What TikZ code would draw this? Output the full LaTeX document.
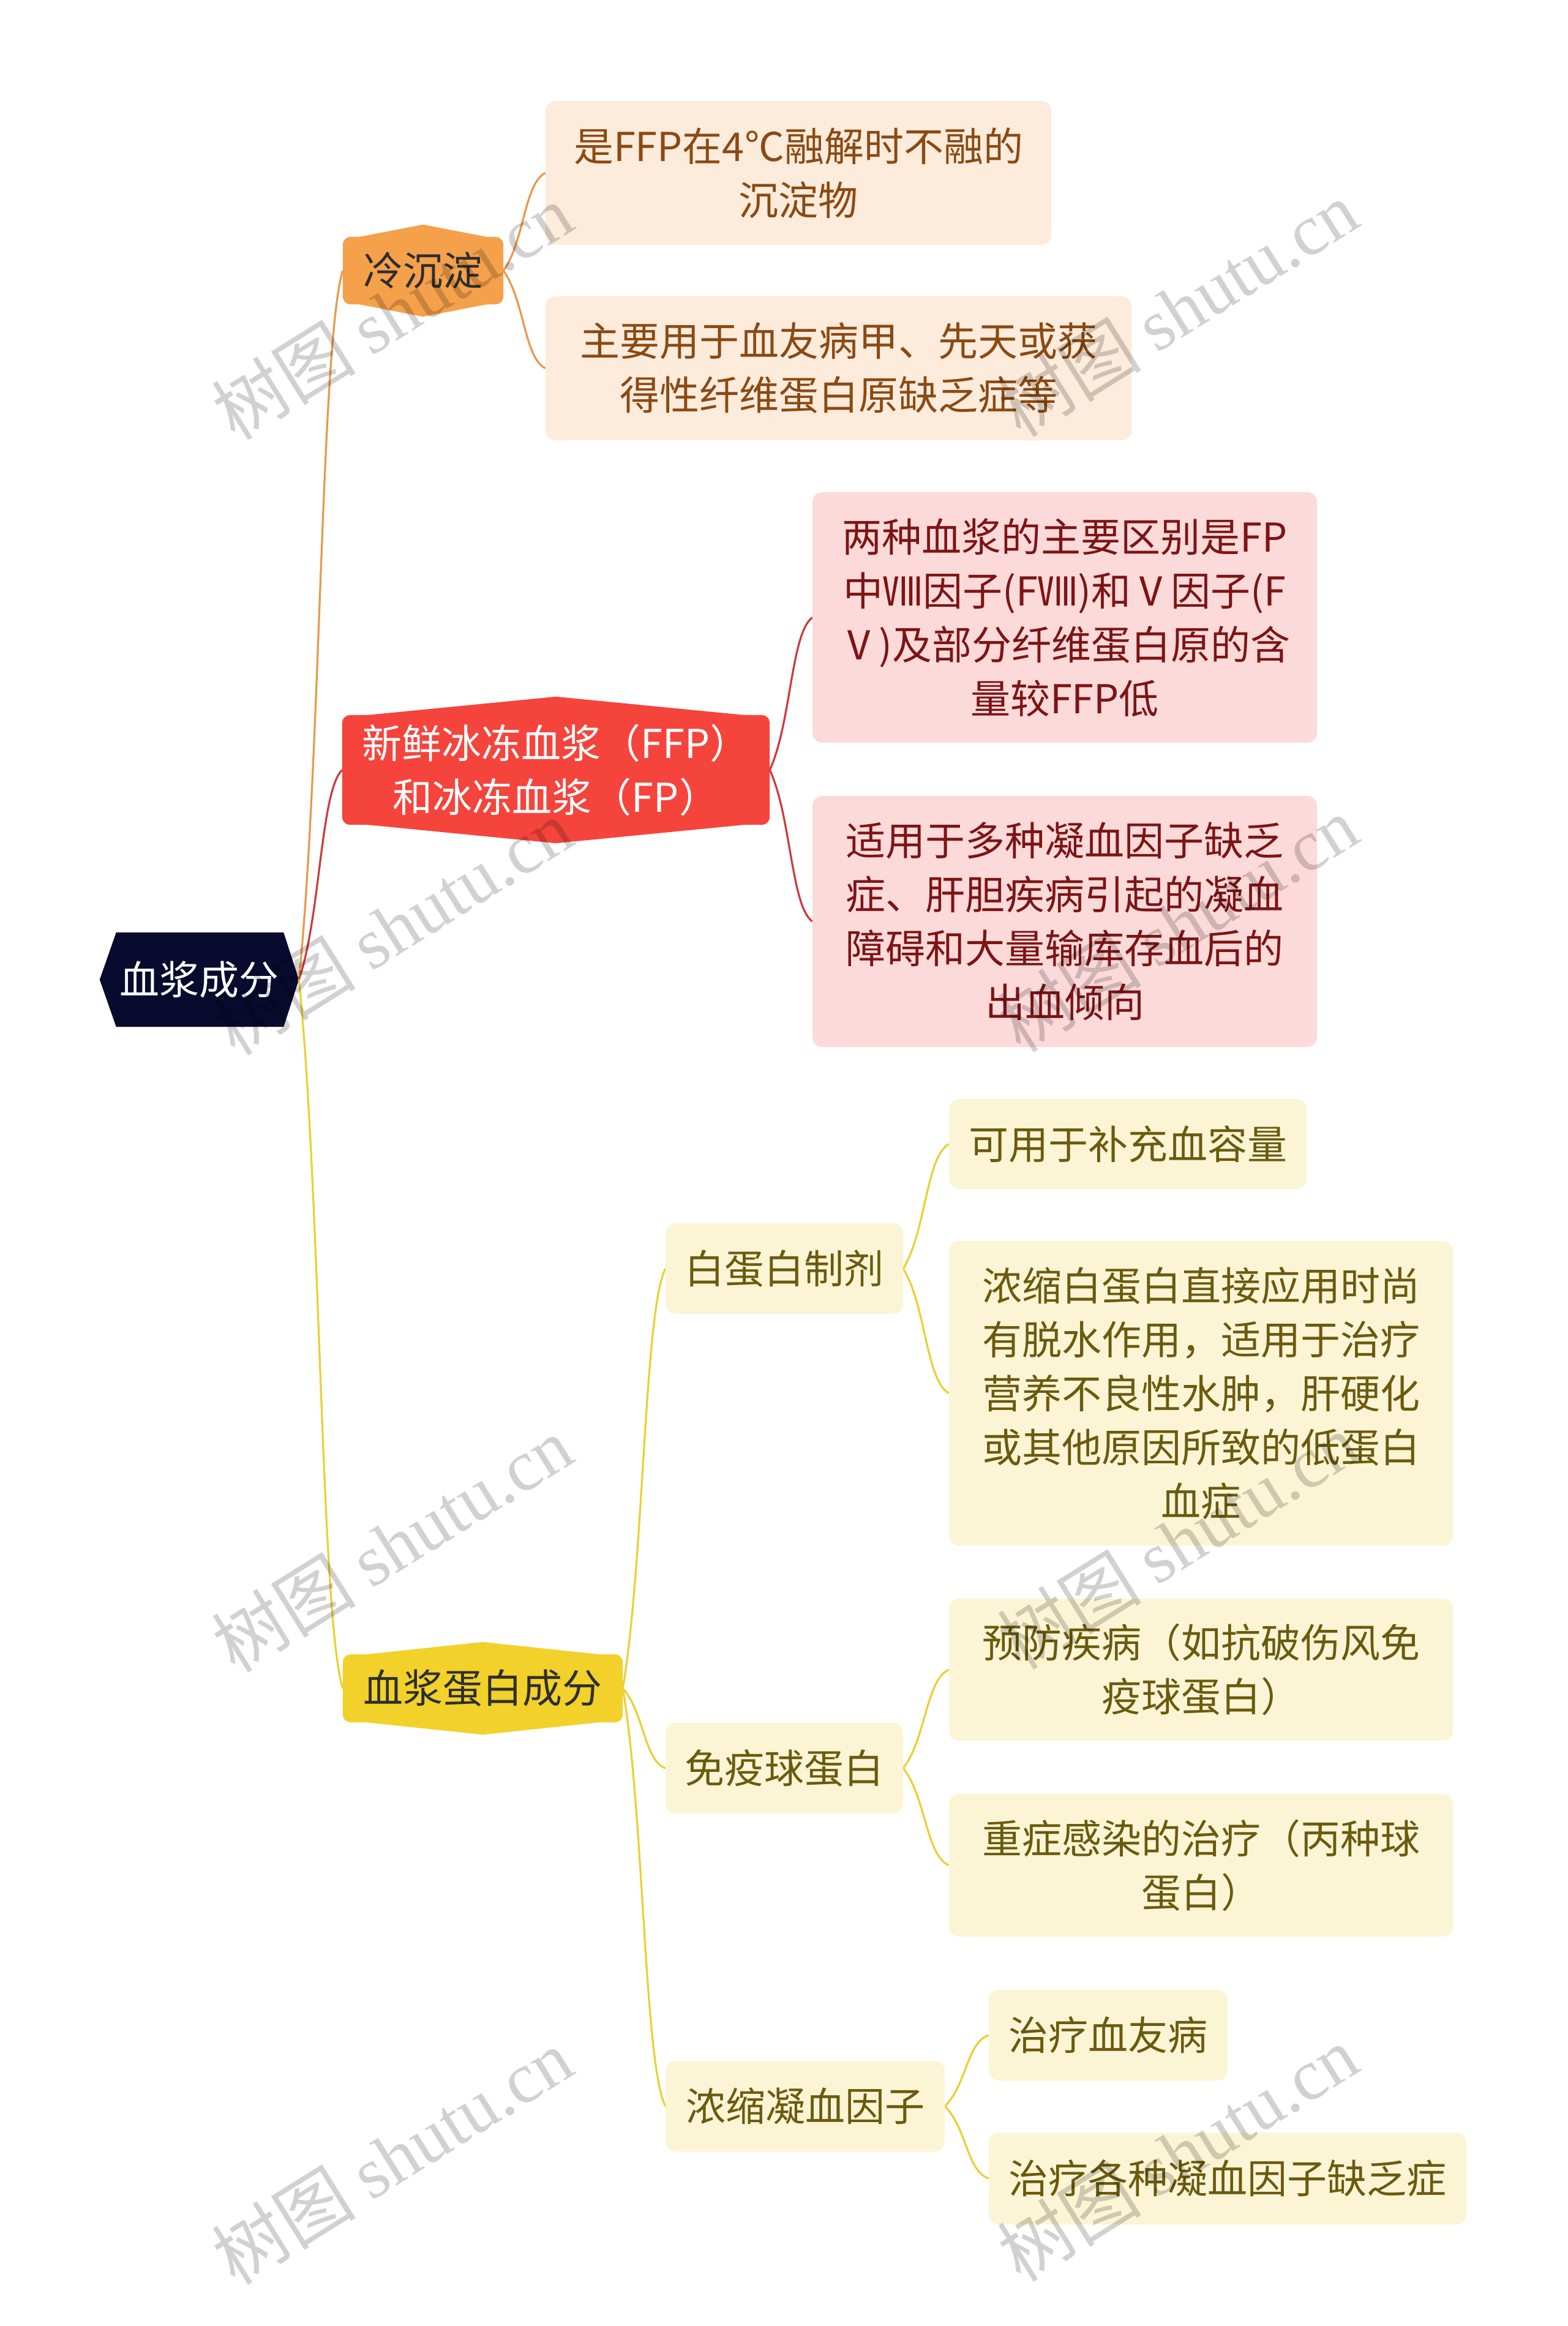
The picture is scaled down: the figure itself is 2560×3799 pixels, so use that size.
\documentclass[tikz,border=0pt]{standalone}
\usepackage{fontspec}
\setmainfont{Noto Sans CJK SC}
\newfontfamily\wmlat{Liberation Serif}
\usetikzlibrary{calc}
\pgfdeclarelayer{bg}
\pgfsetlayers{bg,main}
\definecolor{rootF}{HTML}{080A2E}
\definecolor{oMainF}{HTML}{F5A04B}
\definecolor{rMainF}{HTML}{F5443C}
\definecolor{yMainF}{HTML}{F2D12B}
\definecolor{darkT}{HTML}{2E2E2E}
\definecolor{oLeafF}{HTML}{FDEBDC}
\definecolor{oLeafT}{HTML}{8A4A12}
\definecolor{rLeafF}{HTML}{FDDADA}
\definecolor{rLeafT}{HTML}{7D1414}
\definecolor{yLeafF}{HTML}{FCF5D5}
\definecolor{yLeafT}{HTML}{6B5A0E}
\definecolor{oLine}{HTML}{E8994A}
\definecolor{rLine}{HTML}{CC3A3A}
\definecolor{yLine}{HTML}{EAD035}
\newcommand\mmconn[3]{\draw[#3] let \p1=(#1.east), \p2=(#2.west), \n1={\x2-\x1}, \n2={\y2-\y1} in (\p1) .. controls +({0.5*\n1},{0.3*\n2}) and +({-0.5*\n1},{-0.1*\n2}) .. (\p2);}
\newcommand\mmbody[3]{%
  \fill[#2, rounded corners=13pt] (#1.north west) rectangle (#1.south east);
  \fill[#2] ([xshift=12pt,yshift=-3pt]#1.north west) -- ([yshift=#3]#1.north) -- ([xshift=-12pt,yshift=-3pt]#1.north east) -- cycle;
  \fill[#2] ([xshift=12pt,yshift=3pt]#1.south west) -- ([yshift=-#3]#1.south) -- ([xshift=-12pt,yshift=3pt]#1.south east) -- cycle;}
\begin{document}
\begin{tikzpicture}[x=1pt,y=1pt,
  txt/.style={font=\fontsize{65}{88}\selectfont, align=center, inner sep=0pt},
  mainn/.style={txt},
  leaf/.style={txt, rounded corners=16pt},
  oleaf/.style={leaf, fill=oLeafF, text=oLeafT},
  rleaf/.style={leaf, fill=rLeafF, text=rLeafT},
  yleaf/.style={leaf, fill=yLeafF, text=yLeafT},
  oconn/.style={oLine, line width=3.2pt},
  rconn/.style={rLine, line width=3.2pt},
  yconn/.style={yLine, line width=3.2pt},
  wm/.style={font=\fontsize{118}{118}\selectfont, text=black, text opacity=0.18, rotate=32, inner sep=0pt}]
\useasboundingbox (0,0) rectangle (2560,-3799);
\begin{pgfonlayer}{bg}
\fill[white] (0,0) rectangle (2560,-3799);
\end{pgfonlayer}

% root
\node[txt, text=white, minimum width=325pt, minimum height=154pt] (root) at (325.5,-1600) {血浆成分};
% main branches
\node[mainn, text=darkT, minimum width=262pt, minimum height=110pt] (n1) at (691,-442) {冷沉淀};
\node[mainn, text=white, minimum width=698pt, minimum height=179pt] (n2) at (908,-1257.5) {新鲜冰冻血浆（FFP）\\和冰冻血浆（FP）};
\node[mainn, text=darkT, minimum width=457pt, minimum height=111pt] (n3) at (788.5,-2757.5) {血浆蛋白成分};

% orange leaves
\node[oleaf, minimum width=826pt, minimum height=235pt] (o1) at (1304,-282.5) {是FFP在4℃融解时不融的\\沉淀物};
\node[oleaf, minimum width=957pt, minimum height=235pt] (o2) at (1369.5,-601.5) {主要用于血友病甲、先天或获\\得性纤维蛋白原缺乏症等};
% red leaves
\node[rleaf, minimum width=824pt, minimum height=409pt] (r1) at (1739,-1008.5) {两种血浆的主要区别是FP\\中Ⅷ因子(FⅧ)和Ⅴ因子(F\\Ⅴ)及部分纤维蛋白原的含\\量较FFP低};
\node[rleaf, minimum width=824pt, minimum height=410pt] (r2) at (1739,-1505) {适用于多种凝血因子缺乏\\症、肝胆疾病引起的凝血\\障碍和大量输库存血后的\\出血倾向};
% yellow sub branches
\node[yleaf, minimum width=388pt, minimum height=148pt] (y1) at (1281,-2072) {白蛋白制剂};
\node[yleaf, minimum width=388pt, minimum height=148pt] (y2) at (1281,-2888) {免疫球蛋白};
\node[yleaf, minimum width=456pt, minimum height=148pt] (y3) at (1315,-3440) {浓缩凝血因子};
% yellow leaves
\node[yleaf, minimum width=584pt, minimum height=147pt] (y1a) at (1842,-1868.5) {可用于补充血容量};
\node[yleaf, minimum width=823pt, minimum height=497pt] (y1b) at (1961.5,-2275.5) {浓缩白蛋白直接应用时尚\\有脱水作用，适用于治疗\\营养不良性水肿，肝硬化\\或其他原因所致的低蛋白\\血症};
\node[yleaf, minimum width=823pt, minimum height=232pt] (y2a) at (1961.5,-2727) {预防疾病（如抗破伤风免\\疫球蛋白）};
\node[yleaf, minimum width=823pt, minimum height=233pt] (y2b) at (1961.5,-3046.5) {重症感染的治疗（丙种球\\蛋白）};
\node[yleaf, minimum width=390pt, minimum height=148pt] (y3a) at (1810,-3324) {治疗血友病};
\node[yleaf, minimum width=780pt, minimum height=150pt] (y3b) at (2005,-3558) {治疗各种凝血因子缺乏症};

\begin{pgfonlayer}{bg}
\fill[rootF] (root.west) -- ([xshift=27pt]root.north west) -- ([xshift=-25pt]root.north east) -- (root.east) -- ([xshift=-25pt]root.south east) -- ([xshift=27pt]root.south west) -- cycle;
\mmbody{n1}{oMainF}{20pt}
\mmbody{n2}{rMainF}{30pt}
\mmbody{n3}{yMainF}{20pt}
\mmconn{root}{n1}{oconn}
\mmconn{root}{n2}{rconn}
\mmconn{root}{n3}{yconn}
\mmconn{n1}{o1}{oconn}
\mmconn{n1}{o2}{oconn}
\mmconn{n2}{r1}{rconn}
\mmconn{n2}{r2}{rconn}
\mmconn{n3}{y1}{yconn}
\mmconn{n3}{y2}{yconn}
\mmconn{n3}{y3}{yconn}
\mmconn{y1}{y1a}{yconn}
\mmconn{y1}{y1b}{yconn}
\mmconn{y2}{y2a}{yconn}
\mmconn{y2}{y2b}{yconn}
\mmconn{y3}{y3a}{yconn}
\mmconn{y3}{y3b}{yconn}
\end{pgfonlayer}

% watermarks
\node[wm] (wm1) at (640,-509) {树图 {\wmlat shutu.cn}};
\node[wm] (wm2) at (1923,-504) {树图 {\wmlat shutu.cn}};
\node[wm] (wm3) at (640,-1514) {树图 {\wmlat shutu.cn}};
\node[wm] (wm4) at (1923,-1509) {树图 {\wmlat shutu.cn}};
\node[wm] (wm5) at (640,-2522) {树图 {\wmlat shutu.cn}};
\node[wm] (wm6) at (1923,-2517) {树图 {\wmlat shutu.cn}};
\node[wm] (wm7) at (640,-3522) {树图 {\wmlat shutu.cn}};
\node[wm] (wm8) at (1923,-3517) {树图 {\wmlat shutu.cn}};
\end{tikzpicture}
\end{document}
